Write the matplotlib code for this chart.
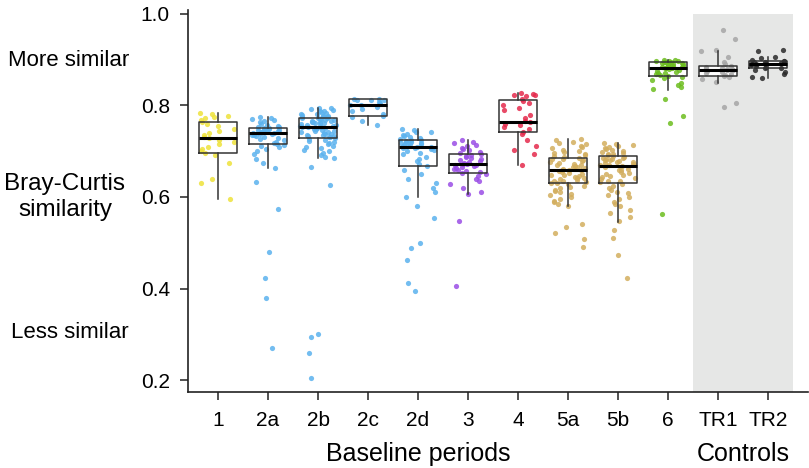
import matplotlib
matplotlib.use("Agg")
import matplotlib.pyplot as plt
import matplotlib.transforms as mtransforms

plt.rcParams['font.family'] = ['Liberation Sans', 'DejaVu Sans']

# categories and colours
labels = ['1', '2a', '2b', '2c', '2d', '3', '4', '5a', '5b', '6', 'TR1', 'TR2']
colors = ['#EEE23A', '#5BB2EE', '#5BB2EE', '#5BB2EE', '#5BB2EE', '#9A4DE6',
          '#E42A4C', '#D3AE5E', '#D3AE5E', '#6CBD1E', '#A6A6A6', '#2A2A2A']

# box statistics
medians = [0.730, 0.739, 0.753, 0.800, 0.709, 0.672, 0.763, 0.658, 0.668, 0.883, 0.878, 0.891]
q1s = [0.696, 0.715, 0.730, 0.777, 0.667, 0.652, 0.741, 0.630, 0.630, 0.864, 0.865, 0.881]
q3s = [0.765, 0.751, 0.772, 0.815, 0.724, 0.693, 0.811, 0.685, 0.690, 0.895, 0.886, 0.897]
whis_lo = [0.596, 0.663, 0.685, 0.757, 0.601, 0.606, 0.670, 0.580, 0.546, 0.834, 0.850, 0.861]
whis_hi = [0.784, 0.774, 0.795, 0.815, 0.749, 0.725, 0.827, 0.727, 0.717, 0.900, 0.919, 0.906]

# individual similarity values
g1 = [0.784, 0.781, 0.778, 0.775, 0.772, 0.768, 0.764, 0.760, 0.755, 0.748, 0.744, 0.740,
      0.736, 0.732, 0.729, 0.725, 0.720, 0.716, 0.710, 0.705, 0.700, 0.697, 0.692, 0.675,
      0.640, 0.631, 0.595]
g2a = [0.774, 0.772, 0.770, 0.768, 0.766, 0.763, 0.760, 0.758, 0.756, 0.754, 0.752, 0.751,
       0.750, 0.749, 0.748, 0.747, 0.746, 0.745, 0.744, 0.743, 0.742, 0.741, 0.740, 0.739,
       0.738, 0.737, 0.736, 0.735, 0.733, 0.731, 0.729, 0.727, 0.724, 0.721, 0.718, 0.716,
       0.714, 0.712, 0.709, 0.705, 0.700, 0.693, 0.683, 0.675, 0.663, 0.633, 0.573, 0.480,
       0.424, 0.380, 0.269]
g2b = [0.795, 0.794, 0.792, 0.790, 0.789, 0.787, 0.785, 0.784, 0.782, 0.781, 0.779, 0.778,
       0.777, 0.776, 0.775, 0.774, 0.773, 0.772, 0.772, 0.771, 0.770, 0.769, 0.768, 0.767,
       0.766, 0.765, 0.764, 0.763, 0.762, 0.761, 0.760, 0.759, 0.758, 0.757, 0.756, 0.755,
       0.754, 0.753, 0.752, 0.751, 0.750, 0.749, 0.748, 0.746, 0.745, 0.744, 0.742, 0.741,
       0.740, 0.738, 0.737, 0.736, 0.735, 0.734, 0.733, 0.732, 0.731, 0.729, 0.727, 0.725,
       0.722, 0.720, 0.718, 0.715, 0.712, 0.710, 0.707, 0.703, 0.700, 0.696, 0.692, 0.688,
       0.686, 0.665, 0.626, 0.300, 0.295, 0.259, 0.205]
g2c = [0.815, 0.814, 0.813, 0.812, 0.811, 0.808, 0.805, 0.802, 0.800, 0.797, 0.793, 0.788,
       0.782, 0.778, 0.775, 0.766, 0.757]
g2d = [0.749, 0.746, 0.743, 0.741, 0.738, 0.735, 0.733, 0.731, 0.729, 0.727, 0.725, 0.724,
       0.722, 0.721, 0.720, 0.719, 0.718, 0.716, 0.715, 0.714, 0.712, 0.711, 0.710, 0.709,
       0.708, 0.707, 0.706, 0.705, 0.703, 0.700, 0.697, 0.693, 0.688, 0.683, 0.678, 0.672,
       0.668, 0.660, 0.650, 0.640, 0.630, 0.620, 0.612, 0.601, 0.580, 0.555, 0.499, 0.488,
       0.463, 0.413, 0.395]
g3 = [0.725, 0.721, 0.717, 0.714, 0.711, 0.708, 0.705, 0.702, 0.699, 0.696, 0.693, 0.691,
      0.689, 0.687, 0.685, 0.683, 0.681, 0.679, 0.677, 0.675, 0.673, 0.672, 0.671, 0.669,
      0.667, 0.665, 0.663, 0.661, 0.659, 0.657, 0.655, 0.653, 0.650, 0.645, 0.640, 0.634,
      0.628, 0.620, 0.612, 0.606, 0.548, 0.406]
g4 = [0.827, 0.826, 0.824, 0.822, 0.820, 0.815, 0.810, 0.806, 0.800, 0.794, 0.790, 0.780,
      0.772, 0.766, 0.763, 0.760, 0.757, 0.753, 0.748, 0.742, 0.738, 0.725, 0.712, 0.703,
      0.695, 0.670]
g5a = [0.727, 0.724, 0.721, 0.718, 0.715, 0.712, 0.709, 0.706, 0.703, 0.700, 0.698, 0.696,
       0.694, 0.692, 0.690, 0.688, 0.686, 0.684, 0.682, 0.680, 0.678, 0.676, 0.674, 0.672,
       0.671, 0.669, 0.668, 0.666, 0.665, 0.663, 0.662, 0.660, 0.659, 0.658, 0.657, 0.655,
       0.653, 0.651, 0.649, 0.648, 0.646, 0.644, 0.642, 0.641, 0.639, 0.637, 0.636, 0.634,
       0.633, 0.631, 0.630, 0.628, 0.625, 0.622, 0.619, 0.616, 0.613, 0.610, 0.607, 0.604,
       0.600, 0.596, 0.592, 0.588, 0.584, 0.580, 0.542, 0.535, 0.521, 0.508, 0.490]
g5b = [0.717, 0.715, 0.713, 0.711, 0.709, 0.707, 0.705, 0.703, 0.701, 0.699, 0.697, 0.695,
       0.693, 0.691, 0.689, 0.688, 0.686, 0.685, 0.684, 0.682, 0.681, 0.680, 0.678, 0.677,
       0.676, 0.674, 0.673, 0.672, 0.670, 0.669, 0.667, 0.665, 0.662, 0.660, 0.658, 0.655,
       0.653, 0.651, 0.648, 0.646, 0.643, 0.641, 0.639, 0.636, 0.634, 0.632, 0.628, 0.624,
       0.620, 0.616, 0.612, 0.608, 0.604, 0.600, 0.595, 0.590, 0.585, 0.580, 0.572, 0.565,
       0.556, 0.548, 0.528, 0.511, 0.473, 0.424]
g6 = [0.900, 0.899, 0.898, 0.898, 0.897, 0.896, 0.895, 0.894, 0.893, 0.892, 0.891, 0.890,
      0.889, 0.888, 0.887, 0.886, 0.885, 0.884, 0.883, 0.882, 0.881, 0.880, 0.878, 0.876,
      0.874, 0.872, 0.870, 0.868, 0.866, 0.865, 0.863, 0.860, 0.856, 0.850, 0.845, 0.840,
      0.835, 0.814, 0.777, 0.761, 0.563]
gtr1 = [0.965, 0.945, 0.921, 0.918, 0.905, 0.895, 0.890, 0.887, 0.885, 0.883, 0.881, 0.880,
        0.879, 0.878, 0.877, 0.875, 0.873, 0.871, 0.869, 0.867, 0.865, 0.862, 0.858, 0.851,
        0.806, 0.797]
gtr2 = [0.921, 0.920, 0.906, 0.903, 0.900, 0.898, 0.897, 0.896, 0.895, 0.893, 0.892, 0.891,
        0.890, 0.889, 0.887, 0.885, 0.883, 0.881, 0.878, 0.874, 0.868, 0.863, 0.861]

groups = [g1, g2a, g2b, g2c, g2d, g3, g4, g5a, g5b, g6, gtr1, gtr2]

fig = plt.figure(figsize=(8.09, 4.68), dpi=100)
ax = fig.add_axes([188 / 809, 76 / 468, 620 / 809, 382 / 468])

ymin, ymax = 0.1738, 1.0087
ax.set_xlim(-0.6, 11.8)
ax.set_ylim(ymin, ymax)

# shaded controls region
ax.fill_between([9.5, 11.5], ymin, 1.0, color='#E6E7E6', lw=0, zorder=0)

stats = []
for i in range(len(labels)):
    stats.append(dict(med=medians[i], q1=q1s[i], q3=q3s[i],
                      whislo=whis_lo[i], whishi=whis_hi[i], fliers=[]))
pos = list(range(len(labels)))

line_col = '#333333'
# white box fill below points
ax.bxp(stats, positions=pos, widths=0.75, patch_artist=True, showfliers=False,
       showcaps=False, boxprops=dict(facecolor='white', edgecolor='none'),
       whiskerprops=dict(color='none'), medianprops=dict(color='none'), zorder=1)

# deterministic, irregular-looking horizontal jitter
for i, vals in enumerate(groups):
    xs = [i + (((k + 3 * i) * 0.7548776662 + (k * k) * 0.5698402910) % 1.0 - 0.5) * 0.72
          for k in range(len(vals))]
    ax.scatter(xs, vals, s=14, color=colors[i], alpha=0.85, lw=0, zorder=2)

# box outlines on top
ax.bxp(stats, positions=pos, widths=0.75, showfliers=False, showcaps=False,
       boxprops=dict(color=line_col, linewidth=1.1),
       whiskerprops=dict(color=line_col, linewidth=1.1),
       medianprops=dict(color='black', linewidth=2.2), zorder=3)

ax.set_xticks(pos)
ax.set_xticklabels(labels)
ax.set_yticks([0.2, 0.4, 0.6, 0.8, 1.0])
ax.set_yticklabels(['0.2', '0.4', '0.6', '0.8', '1.0'])
ax.tick_params(length=6, width=1.1, labelsize=15, color='#222222')
ax.tick_params(axis='x', pad=8)
ax.tick_params(axis='y', pad=7)
for side in ['top', 'right']:
    ax.spines[side].set_visible(False)
for side in ['left', 'bottom']:
    ax.spines[side].set_linewidth(1.2)
    ax.spines[side].set_color('#222222')

trans = mtransforms.blended_transform_factory(ax.transData, fig.transFigure)
ax.text(4, 1 - 454 / 468, 'Baseline periods', transform=trans, ha='center', va='center', fontsize=18)
ax.text(10.5, 1 - 454 / 468, 'Controls', transform=trans, ha='center', va='center', fontsize=18)

fig.text(129 / 809, 1 - 60 / 468, 'More similar', ha='right', va='center', fontsize=16)
fig.text(65 / 809, 1 - 197 / 468, 'Bray-Curtis\nsimilarity', ha='center', va='center',
         fontsize=17.5, linespacing=1.25)
fig.text(129 / 809, 1 - 333 / 468, 'Less similar', ha='right', va='center', fontsize=16)

fig.savefig('out.png', dpi=100)
